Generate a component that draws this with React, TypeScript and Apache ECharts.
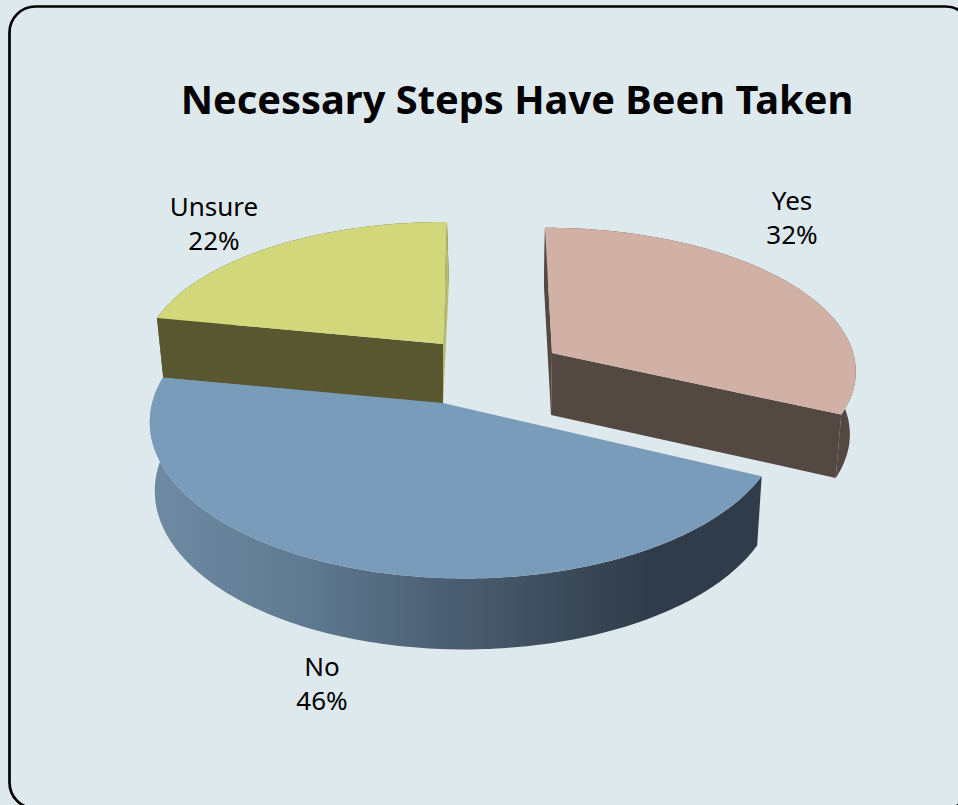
import React, { useEffect, useRef } from "react";
import * as echarts from "echarts";

const titleText = "Necessary Steps Have Been Taken";
const categories = ["Yes", "No", "Unsure"];
const shares = [32, 46, 22];

const PAGE_BG = "#DEE9ED";

// Perspective view of each exploded slice (layout only, no data).
type View = {
  cx: number; cy: number; a: number; b: number; c: number; d: number; k: number; m: number;
  sx: [number, number, number]; sy: [number, number, number];
  top: string; wall: any; endFace: string | null; startFace: string | null; z: number;
  lx: number; ly: number;
};

const wallGradient = () =>
  new echarts.graphic.LinearGradient(
    150, 0, 762, 0,
    [
      { offset: 0, color: "#6F8BA4" },
      { offset: 0.25, color: "#5F7A90" },
      { offset: 0.5, color: "#4A5D70" },
      { offset: 0.72, color: "#384654" },
      { offset: 0.82, color: "#303C49" },
      { offset: 1, color: "#303C49" },
    ],
    true
  );

const views: Record<string, () => View> = {
  Yes: () => ({
    cx: 552, cy: 353, a: 301, b: 7.8, c: -0.5, d: 139, k: 0.11, m: 0,
    sx: [-1, -5, 0], sy: [62, 0, 3],
    top: "#D1B1A5", wall: "#544842", endFace: "#544842", startFace: "#544842", z: 2,
    lx: 792, ly: 217,
  }),
  No: () => ({
    cx: 443, cy: 403, a: 312, b: -1.5, c: -1, d: 154, k: 0.12, m: 0.072,
    sx: [0, -5, 0], sy: [68, 0, 3],
    top: "#7A9CBB", wall: wallGradient(), endFace: null, startFace: null, z: 3,
    lx: 322, ly: 683,
  }),
  Unsure: () => ({
    cx: 443, cy: 344, a: 298, b: -4.4, c: 1.2, d: 135.4, k: 0.11, m: 0,
    sx: [0, -6, -2], sy: [60, 0, 0],
    top: "#D1D77A", wall: "#58572F", endFace: "#B5BA6C", startFace: "#58572F", z: 1,
    lx: 214, ly: 223,
  }),
};

function project(v: View, X: number, Y: number): [number, number] {
  const D = 1 - v.k * Y - v.m * X;
  return [v.cx + (v.a * X + v.b * Y) / D, v.cy + (v.c * X + v.d * Y) / D];
}
function lower(v: View, p: [number, number], X: number, Y: number): [number, number] {
  return [p[0] + v.sx[0] + v.sx[1] * X + v.sx[2] * Y, p[1] + v.sy[0] + v.sy[1] * X + v.sy[2] * Y];
}

function renderSlice(params: any) {
  const i = params.dataIndex;
  const total = shares.reduce((s, x) => s + x, 0);
  const before = shares.slice(0, i).reduce((s, x) => s + x, 0);
  const t0 = (before / total) * Math.PI * 2;
  const t1 = ((before + shares[i]) / total) * Math.PI * 2;
  const v = views[categories[i]]();
  const steps = Math.max(8, Math.round(((t1 - t0) * 180) / Math.PI));
  const topArc: [number, number][] = [];
  const lowArc: [number, number][] = [];
  for (let s = 0; s <= steps; s++) {
    const t = t0 + ((t1 - t0) * s) / steps;
    const X = Math.sin(t);
    const Y = -Math.cos(t);
    const p = project(v, X, Y);
    topArc.push(p);
    lowArc.push(lower(v, p, X, Y));
  }
  const apex = project(v, 0, 0);
  const apexLow = lower(v, apex, 0, 0);
  const children: any[] = [];
  const poly = (points: [number, number][], fill: any, z2: number) =>
    children.push({ type: "polygon", z2, silent: true, shape: { points }, style: { fill, stroke: "none" } });
  poly([...topArc, ...lowArc.slice().reverse()], v.wall, v.z * 10);
  if (v.endFace) poly([apex, topArc[steps], lowArc[steps], apexLow], v.endFace, v.z * 10 + 1);
  if (v.startFace) poly([apex, topArc[0], lowArc[0], apexLow], v.startFace, v.z * 10 + 2);
  poly([apex, ...topArc], v.top, v.z * 10 + 3);
  children.push({
    type: "text",
    z2: 100,
    silent: true,
    style: {
      x: v.lx,
      y: v.ly,
      text: `${categories[i]}\n${shares[i]}%`,
      fill: "#000000",
      font: "26px 'Noto Sans'",
      lineHeight: 34,
      textAlign: "center",
      textVerticalAlign: "middle",
    },
  });
  return { type: "group", children };
}

export default function App() {
  const ref = useRef<HTMLDivElement>(null);
  useEffect(() => {
    document.body.style.margin = "0";
    document.body.style.background = PAGE_BG;
    document.body.style.overflow = "hidden";
    const chart = echarts.init(ref.current!, null, { renderer: "svg" });
    chart.setOption({
      animation: false,
      backgroundColor: PAGE_BG,
      title: {
        text: titleText,
        left: 512,
        top: 73,
        textAlign: "center",
        textStyle: { fontFamily: "'Noto Sans'", fontWeight: "bold", fontSize: 39.8, color: "#000000" },
      },
      graphic: [
        {
          type: "rect",
          silent: true,
          z: -1,
          shape: { x: 9.5, y: 6.5, width: 962, height: 802, r: 26 },
          style: { fill: "transparent", stroke: "#000000", lineWidth: 2.7 },
        },
      ],
      series: [
        {
          type: "custom",
          coordinateSystem: "none",
          silent: true,
          data: shares,
          renderItem: renderSlice,
        },
      ],
    });
    return () => chart.dispose();
  }, []);
  return <div ref={ref} style={{ position: "absolute", left: 0, top: 0, width: 958, height: 805 }} />;
}
